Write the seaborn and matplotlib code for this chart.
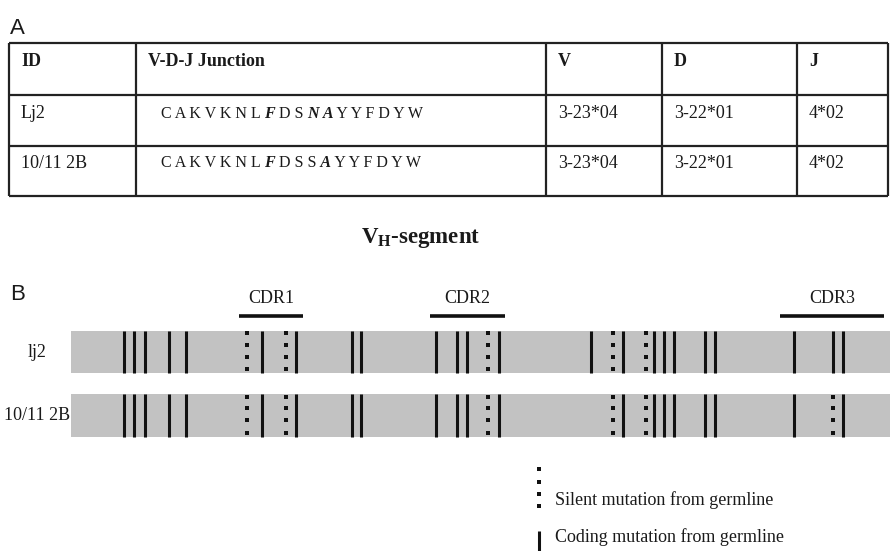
import matplotlib
matplotlib.use("Agg")
import matplotlib.pyplot as plt
import matplotlib.transforms as mtransforms
import pandas as pd
import seaborn as sns

# ---------------- Panel A: junction table ----------------
table_headers = ["ID", "V-D-J Junction", "V", "D", "J"]
clone_ids = ["Lj2", "10/11 2B"]
junction_seqs = ["CAKVKNLFDSNAYYFDYW", "CAKVKNLFDSSAYYFDYW"]
junction_replacements = [[7, 10, 11], [7, 11]]
v_genes = ["3-23*04", "3-23*04"]
d_genes = ["3-22*01", "3-22*01"]
j_genes = ["4*02", "4*02"]

# ---------------- Panel B: VH-segment mutation map ----------------
segment_clones = ["lj2", "10/11 2B"]
segment_length = 819
coding_lj2 = [53, 63, 74, 98, 115, 191, 225, 281, 290, 365, 386, 396, 428,
              520, 552, 583, 593, 603, 634, 644, 723, 762, 772]
silent_lj2 = [176, 215, 417, 542, 575]
coding_2b = [53, 63, 74, 98, 115, 191, 225, 281, 290, 365, 386, 396, 428,
             552, 583, 593, 603, 634, 644, 723, 772]
silent_2b = [176, 215, 417, 542, 575, 762]
cdr_names = ["CDR1", "CDR2", "CDR3"]
cdr_start = [168, 359, 709]
cdr_end = [232, 434, 813]

sns.set_style("white")
plt.rcParams["font.family"] = ["Liberation Serif", "DejaVu Sans"]
plt.rcParams["mathtext.fontset"] = "custom"
plt.rcParams["mathtext.rm"] = "Liberation Serif"
plt.rcParams["mathtext.it"] = "Liberation Serif:italic"
plt.rcParams["mathtext.bf"] = "Liberation Serif:bold"

INK = "#1a1a1a"
BAND = "#c2c2c2"
SERIF = "Liberation Serif"

fig = plt.figure(figsize=(8.9, 5.51), dpi=100)

# overlay axes in pixel units for the table, headings and legend
axT = fig.add_axes([0, 0, 1, 1])
axT.set_xlim(0, 890)
axT.set_ylim(551, 0)
axT.axis("off")

# ---- panel A ----
axT.text(10, 29, "A", family="Liberation Sans", fontsize=16, color=INK,
         ha="left", va="center")

col_edges = [9, 136, 546, 662, 797, 888]
row_edges = [43, 95, 146, 196]
axT.hlines(row_edges, col_edges[0], col_edges[-1], color="#222222", lw=1.6)
axT.vlines(col_edges, row_edges[0], row_edges[-1], color="#222222", lw=1.6)

header_y = 62
row_y = [114, 163]
pad = 12
for left, h in zip(col_edges[:-1], table_headers):
    axT.text(left + pad, header_y, h, family=SERIF, fontsize=13,
             fontweight="bold", color=INK, ha="left", va="center")


def draw_junction(ax, x, y, seq, marked):
    """Write a junction sequence, replacement residues in bold italic."""
    runs = []
    for i, ch in enumerate(seq):
        emph = i in marked
        if runs and runs[-1][1] == emph:
            runs[-1][0].append(ch)
        else:
            runs.append(([ch], emph))
    prev = None
    for k, (chars, emph) in enumerate(runs):
        s = " ".join(chars)
        if k > 0:
            s = " " + s
        style = dict(family=SERIF, fontsize=11.5, color=INK,
                     fontweight="bold" if emph else "normal",
                     fontstyle="italic" if emph else "normal")
        if prev is None:
            prev = ax.text(x, y, s, ha="left", va="center", **style)
        else:
            prev = ax.annotate(s, xy=(1, 0), xycoords=prev,
                               ha="left", va="bottom", **style)


for r, y in enumerate(row_y):
    axT.text(col_edges[0] + pad, y, clone_ids[r], family=SERIF, fontsize=13,
             color=INK, ha="left", va="center")
    draw_junction(axT, col_edges[1] + 25, y, junction_seqs[r],
                  junction_replacements[r])
    for c, vals in zip((2, 3, 4), (v_genes, d_genes, j_genes)):
        axT.text(col_edges[c] + pad, y, vals[r], family=SERIF, fontsize=13,
                 color=INK, ha="left", va="center")

# ---- panel B headings ----
axT.text(421, 238, r"V$_\mathbf{H}$-segment", family=SERIF, fontsize=16.5,
         fontweight="bold", color=INK, ha="center", va="center")
axT.text(10, 295, "B", family="Liberation Sans", fontsize=16, color=INK,
         ha="left", va="center")

# ---- panel B mutation map ----
axB = fig.add_axes([71 / 890, 1 - 450 / 551, 819 / 890, 170 / 551])
band_df = pd.DataFrame({"clone": segment_clones,
                        "length": [segment_length] * len(segment_clones)})
band_h = 0.67
sns.barplot(data=band_df, x="length", y="clone", orient="h", color=BAND,
            saturation=1, width=band_h, linewidth=0, ax=axB)

coding = [coding_lj2, coding_2b]
silent = [silent_lj2, silent_2b]
dot_fracs = [0.055, 0.33, 0.615, 0.9]
dot_rows = []
for row, (cod, sil) in enumerate(zip(coding, silent)):
    axB.vlines(cod, row - band_h / 2, row + band_h / 2, color="#111111",
               lw=2.2, zorder=3)
    for pos in sil:
        for f in dot_fracs:
            dot_rows.append({"pos": pos, "y": row - band_h / 2 + f * band_h})
dots = pd.DataFrame(dot_rows)
sns.scatterplot(data=dots, x="pos", y="y", marker="s", s=9, color="#111111",
                linewidth=0, ax=axB, zorder=3, legend=False)

for name, a, b in zip(cdr_names, cdr_start, cdr_end):
    axB.hlines(-0.567, a, b, color="#111111", lw=2.6)
    axB.text((a + b) / 2, -0.85, name, family=SERIF, fontsize=13, color=INK,
             ha="center", va="center")

axB.set_xlim(0, segment_length)
axB.set_ylim(1.543, -1.134)
axB.set_xlabel("")
axB.set_ylabel("")
axB.set_xticks([])
axB.set_yticks([])
for sp in axB.spines.values():
    sp.set_visible(False)
axB.patch.set_visible(False)

lab_tr = mtransforms.blended_transform_factory(fig.transFigure, axB.transData)
for row, name in enumerate(segment_clones):
    axB.text(37.5 / 890, row, name, transform=lab_tr, family=SERIF,
             fontsize=13, color=INK, ha="center", va="center")

# ---- legend ----
axT.scatter([539] * 4, [469, 481.5, 494, 506], marker="s", s=9,
            color="#111111", linewidths=0)
axT.text(555, 500, "Silent mutation from germline", family=SERIF,
         fontsize=13, color=INK, ha="left", va="center")
axT.vlines(539, 531, 551, color="#111111", lw=2.2)
axT.text(555, 537, "Coding mutation from germline", family=SERIF,
         fontsize=13, color=INK, ha="left", va="center")

fig.savefig("out.png", dpi=100)
